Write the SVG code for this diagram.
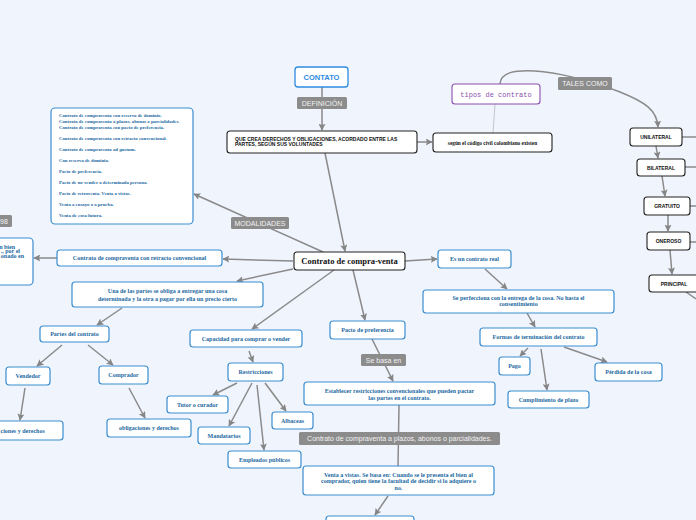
<svg xmlns="http://www.w3.org/2000/svg" width="696" height="520" viewBox="0 0 696 520">
<defs>
<marker id="ah" viewBox="0 0 10 10" refX="9" refY="5" markerWidth="7" markerHeight="7" markerUnits="userSpaceOnUse" orient="auto">
<path d="M0,0 L10,5 L0,10 L2,5 z" fill="#858585"/>
</marker>
<style>
.bg{fill:#f0f4fd}
.c{fill:none;stroke:#8a8a8a;stroke-width:1.5}
.ca{fill:none;stroke:#8a8a8a;stroke-width:1.5;marker-end:url(#ah)}
.cl{fill:none;stroke:#c4c4cc;stroke-width:1}
.bn{fill:#fff;stroke:#3a8ed0;stroke-width:1.2}
.kn{fill:#fff;stroke:#222;stroke-width:1.1}
.pn{fill:#fff;stroke:#8a4fb0;stroke-width:1.1}
.bt{font-family:"Liberation Serif",serif;font-weight:bold;font-size:6px;fill:#1d6aa3;text-anchor:middle}
.lt{font-family:"Liberation Serif",serif;font-weight:bold;font-size:4.8px;fill:#1d6aa3}
.kt{font-family:"Liberation Sans",sans-serif;font-weight:bold;font-size:5px;fill:#111;text-anchor:middle}
.lb{fill:#8c8c8c}
.lbt{font-family:"Liberation Sans",sans-serif;font-size:7px;fill:#f2f2f2;text-anchor:middle}
</style>
</defs>
<rect class="bg" width="696" height="520"/>

<g id="connectors">
<path class="ca" d="M322,87 L322,130"/>
<path class="ca" d="M417,142 L432,142"/>
<path class="cl" d="M495,104 L493,133"/>
<path class="ca" d="M500,84 C501,72 515,70 535,71 C555,72 590,80 620,92 C645,102 657,110 658,127"/>
<path class="ca" d="M656,146 L658,158"/>
<path class="ca" d="M662,176 L665,196"/>
<path class="ca" d="M668,215 L668,231"/>
<path class="ca" d="M670,250 L672,274"/>
<path class="c" d="M682,137 L696,137"/>
<path class="c" d="M685,167 L696,167"/>
<path class="c" d="M690,206 L696,206"/>
<path class="c" d="M690,242 L696,242"/>
<path class="c" d="M686,292 L696,299"/>
<path class="ca" d="M325,153 L345,251"/>
<path class="ca" d="M323,252 L194,194"/>
<path class="ca" d="M293,261 L223,259"/>
<path class="ca" d="M57,258 L34,258"/>
<path class="ca" d="M293,269 L237,281"/>
<path class="ca" d="M334,270 L252,329"/>
<path class="ca" d="M353,270 L365,320"/>
<path class="ca" d="M405,261 L437,259"/>
<path class="ca" d="M485,269 L507,289"/>
<path class="ca" d="M527,313 L535,327"/>
<path class="ca" d="M528,348 L520,356"/>
<path class="ca" d="M541,349 L547,390"/>
<path class="ca" d="M564,347 L607,362"/>
<path class="ca" d="M372,339 L393,381"/>
<path class="c" d="M399,405 L398,466"/>
<path class="ca" d="M388,496 L375,515"/>
<path class="ca" d="M122,308 L97,325"/>
<path class="ca" d="M62,345 L37,366"/>
<path class="ca" d="M88,345 L113,365"/>
<path class="ca" d="M25,388 L20,420"/>
<path class="ca" d="M129,388 L145,418"/>
<path class="ca" d="M249,351 L253,362"/>
<path class="ca" d="M237,383 L213,395"/>
<path class="ca" d="M252,383 L229,426"/>
<path class="ca" d="M257,385 L264,450"/>
<path class="ca" d="M265,383 L286,411"/>
</g>

<g id="label-definicion"><rect class="lb" x="297" y="97" width="50" height="12" rx="1.5"/><text class="lbt" x="322" y="105.5">DEFINICIÓN</text></g>
<g id="label-tales"><rect class="lb" x="558" y="77" width="54" height="13" rx="1.5"/><text class="lbt" x="585" y="86">TALES COMO</text></g>
<g id="label-modalidades"><rect class="lb" x="231" y="217" width="58" height="12" rx="1.5"/><text class="lbt" x="260" y="225.5">MODALIDADES</text></g>
<g id="label-sebasa"><rect class="lb" x="361" y="354" width="45" height="12" rx="1.5"/><text class="lbt" x="383.5" y="362.5">Se basa en</text></g>
<g id="label-plazos"><rect class="lb" x="299" y="432" width="201" height="13" rx="1.5"/><text class="lbt" x="399.5" y="441.3">Contrato de compraventa a plazos, abonos o parcialidades.</text></g>
<g id="label-98"><rect class="lb" x="-10" y="215" width="22" height="12" rx="1.5"/><text class="lbt" x="4" y="223.5">98</text></g>

<g id="contato"><rect x="295" y="67" width="53" height="20" rx="3" fill="#fff" stroke="#2f8be0" stroke-width="1.3"/><text x="321.5" y="80" style="font-family:'Liberation Sans',sans-serif;font-weight:bold;font-size:7.5px;fill:#2f8be0;text-anchor:middle">CONTATO</text></g>

<g id="que-crea"><rect class="kn" x="227" y="131" width="190" height="22" rx="3"/>
<text x="235" y="141" style="font-family:'Liberation Sans',sans-serif;font-weight:bold;font-size:5px;fill:#111">QUE CREA DERECHOS Y OBLIGACIONES, ACORDADO ENTRE LAS</text>
<text x="235" y="146" style="font-family:'Liberation Sans',sans-serif;font-weight:bold;font-size:5px;fill:#111">PARTES, SEGÚN SUS VOLUNTADES</text></g>

<g id="segun"><rect class="kn" x="433" y="133" width="119" height="19" rx="3"/><text x="492.5" y="144.5" style="font-family:'Liberation Serif',serif;font-weight:bold;font-size:5.3px;fill:#111;text-anchor:middle">según el código civil colombiano existen</text></g>

<g id="tipos"><rect class="pn" x="452" y="84" width="88" height="20" rx="3"/><text x="496" y="96.5" style="font-family:'Liberation Mono',monospace;font-size:7px;fill:#8a4fb0;text-anchor:middle">tipos de contrato</text></g>

<g id="unilateral"><rect class="kn" x="630" y="128" width="52" height="18" rx="3"/><text class="kt" x="656" y="139">UNILATERAL</text></g>
<g id="bilateral"><rect class="kn" x="637" y="159" width="48" height="17" rx="3"/><text class="kt" x="661" y="169.5">BILATERAL</text></g>
<g id="gratuito"><rect class="kn" x="644" y="197" width="46" height="18" rx="3"/><text class="kt" x="667" y="208">GRATUITO</text></g>
<g id="oneroso"><rect class="kn" x="647" y="232" width="43" height="18" rx="3"/><text class="kt" x="668.5" y="243">ONEROSO</text></g>
<g id="principal"><rect class="kn" x="649" y="275" width="50" height="17" rx="3"/><text class="kt" x="674" y="285.5">PRINCIPAL</text></g>

<g id="central"><rect class="kn" x="294" y="252" width="111" height="18" rx="3"/><text x="349.5" y="264" style="font-family:'Liberation Serif',serif;font-weight:bold;font-size:8.5px;fill:#111;text-anchor:middle">Contrato de compra-venta</text></g>

<g id="lista"><rect class="bn" x="51" y="108" width="142" height="116" rx="4"/>
<text class="lt" x="59" y="117">Contrato de compraventa con reserva de dominio.</text>
<text class="lt" x="59" y="123">Contrato de compraventa a plazos, abonos o parcialidades.</text>
<text class="lt" x="59" y="129">Contrato de compraventa con pacto de preferencia.</text>
<text class="lt" x="59" y="140">Contrato de compraventa con retracto convencional.</text>
<text class="lt" x="59" y="151">Contrato de compraventa ad gustum.</text>
<text class="lt" x="59" y="162">Con reserva de dominio.</text>
<text class="lt" x="59" y="173">Pacto de preferencia.</text>
<text class="lt" x="59" y="184">Pacto de no vender a determinada persona.</text>
<text class="lt" x="59" y="195">Pacto de retroventa. Venta a vistas.</text>
<text class="lt" x="59" y="206">Venta a ensayo o a prueba.</text>
<text class="lt" x="59" y="217">Venta de cosa futura.</text></g>

<g id="retracto"><rect class="bn" x="57" y="250" width="165" height="16" rx="3"/><text class="bt" x="139.5" y="260.3">Contrato de compraventa con retracto convencional</text></g>

<g id="izquierda"><rect class="bn" x="-40" y="238" width="73" height="47" rx="4"/>
<text class="bt" x="15" y="248.5" style="text-anchor:end">n bien</text>
<text class="bt" x="20" y="253.3" style="text-anchor:end">., por el</text>
<text class="bt" x="24" y="258" style="text-anchor:end">onado en</text></g>

<g id="una"><rect class="bn" x="72" y="282" width="191" height="25" rx="3"/>
<text class="bt" x="167.5" y="292.5">Una de las partes se obliga a entregar una cosa</text>
<text class="bt" x="167.5" y="300.5">determinada y la otra a pagar por ella un precio cierto</text></g>

<g id="partes"><rect class="bn" x="40" y="326" width="69" height="16" rx="3"/><text class="bt" x="74.5" y="336">Partes del contrato</text></g>
<g id="vendedor"><rect class="bn" x="6" y="367" width="44" height="18" rx="3"/><text class="bt" x="28" y="378">Vendedor</text></g>
<g id="comprador"><rect class="bn" x="99" y="366" width="49" height="18" rx="3"/><text class="bt" x="123.5" y="377">Comprador</text></g>
<g id="vend-oblig"><rect class="bn" x="-21" y="421" width="84" height="19" rx="3"/><text class="bt" x="0.5" y="432.5" style="text-anchor:start">ciones y derechos</text></g>
<g id="comp-oblig"><rect class="bn" x="107" y="419" width="84" height="18" rx="3"/><text class="bt" x="149" y="430">obligaciones y derechos</text></g>

<g id="capacidad"><rect class="bn" x="190" y="330" width="112" height="17" rx="3"/><text class="bt" x="246" y="340.5">Capacidad para comprar o vender</text></g>
<g id="restricciones"><rect class="bn" x="228" y="363" width="55" height="18" rx="3"/><text class="bt" x="255.5" y="374">Restricciones</text></g>
<g id="tutor"><rect class="bn" x="167" y="396" width="61" height="17" rx="3"/><text class="bt" x="197.5" y="406.5">Tutor o curador</text></g>
<g id="mandatarios"><rect class="bn" x="198" y="427" width="52" height="17" rx="3"/><text class="bt" x="224" y="437.5">Mandatarios</text></g>
<g id="empleados"><rect class="bn" x="228" y="451" width="73" height="17" rx="3"/><text class="bt" x="264.5" y="461.5">Empleados públicos</text></g>
<g id="albaceas"><rect class="bn" x="272" y="412" width="41" height="17" rx="3"/><text class="bt" x="292.5" y="422.5">Albaceas</text></g>

<g id="pacto"><rect class="bn" x="330" y="321" width="75" height="18" rx="3"/><text class="bt" x="367.5" y="332">Pacto de preferencia</text></g>
<g id="establecer"><rect class="bn" x="304" y="382" width="191" height="23" rx="3"/>
<text class="bt" x="399.5" y="393">Establecer restricciones convencionales que pueden pactar</text>
<text class="bt" x="399.5" y="399.5">las partes en el contrato.</text></g>
<g id="venta-vistas"><rect class="bn" x="303" y="466" width="191" height="29" rx="3"/>
<text class="bt" x="398.5" y="477">Venta a vistas. Se basa en: Cuando se le presenta el bien al</text>
<text class="bt" x="398.5" y="483.3">comprador, quien tiene la facultad de decidir si lo adquiere o</text>
<text class="bt" x="398.5" y="489.6">no.</text></g>
<g id="inferior"><rect class="bn" x="326" y="516" width="88" height="14" rx="3"/></g>

<g id="es-real"><rect class="bn" x="438" y="250" width="73" height="18" rx="3"/><text class="bt" x="474.5" y="261">Es un contrato real</text></g>
<g id="se-perfecciona"><rect class="bn" x="423" y="290" width="191" height="23" rx="3"/>
<text class="bt" x="518.5" y="300">Se perfecciona con la entrega de la cosa. No hasta el</text>
<text class="bt" x="518.5" y="306">consentimiento</text></g>
<g id="formas"><rect class="bn" x="480" y="328" width="117" height="18" rx="3"/><text class="bt" x="538.5" y="339">Formas de terminación del contrato</text></g>
<g id="pago"><rect class="bn" x="499" y="357" width="31" height="18" rx="3"/><text class="bt" x="514.5" y="368">Pago</text></g>
<g id="cumplimiento"><rect class="bn" x="508" y="391" width="81" height="17" rx="3"/><text class="bt" x="548.5" y="401.5">Cumplimiento de plazo</text></g>
<g id="perdida"><rect class="bn" x="595" y="363" width="67" height="18" rx="3"/><text class="bt" x="628.5" y="374">Pérdida de la cosa</text></g>
</svg>
